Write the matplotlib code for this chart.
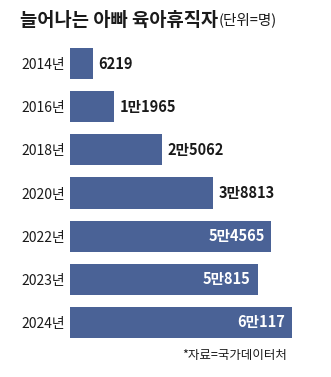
import matplotlib
matplotlib.use('Agg')
import matplotlib.pyplot as plt

plt.rcParams['font.family'] = ['Noto Sans CJK KR', 'DejaVu Sans']

years = ['2014년', '2016년', '2018년', '2020년', '2022년', '2023년', '2024년']
values = [6219, 11965, 25062, 38813, 54565, 50815, 60117]
labels = ['6219', '1만1965', '2만5062', '3만8813', '5만4565', '5만815', '6만117']
inside = [False, False, False, False, True, True, True]

bar_color = '#4a6296'
text_color = '#1a1a1a'

fig = plt.figure(figsize=(3.31, 3.77), dpi=100)
ax = fig.add_axes([69.5 / 331, 0.0875, 244.3 / 331, 0.801])

ypos = list(range(len(years)))
ax.barh(ypos, values, height=0.72, color=bar_color)
ax.set_xlim(0, 66000)
ax.set_ylim(len(years) - 0.5, -0.5)

ax.set_yticks(ypos)
ax.set_yticklabels(years, fontsize=10, color=text_color, fontweight='medium')
ax.tick_params(axis='y', length=0, pad=3)
ax.set_xticks([])
for s in ax.spines.values():
    s.set_visible(False)

for y, v, lab, ins in zip(ypos, values, labels, inside):
    if ins:
        ax.annotate(lab, xy=(v, y), xytext=(-5, 0), textcoords='offset points',
                    ha='right', va='center', fontsize=10.5, fontweight='bold', color='white')
    else:
        ax.annotate(lab, xy=(v, y), xytext=(4, 0), textcoords='offset points',
                    ha='left', va='center', fontsize=10.5, fontweight='bold', color=text_color)

title = fig.text(20 / 331, 1 - 20 / 377, '늘어나는 아빠 육아휴직자', fontsize=13.5,
                 fontweight='heavy', color=text_color, ha='left', va='center')
fig.canvas.draw()
plt.annotate('(단위=명)', xy=(1, 0.5), xycoords=title, xytext=(0.5, 0), textcoords='offset points',
             ha='left', va='center', fontsize=10.5, color=text_color)

fig.text(287 / 331, 1 - 355 / 377, '*자료=국가데이터처', fontsize=9, color=text_color,
         ha='right', va='center')

fig.savefig('out.png', dpi=100, facecolor='white')
